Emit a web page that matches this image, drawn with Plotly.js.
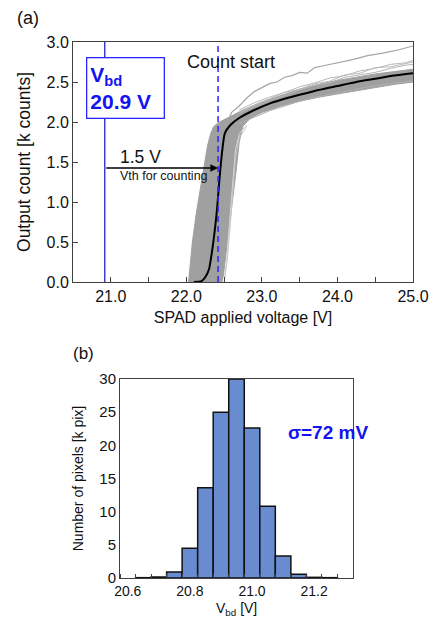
<!DOCTYPE html>
<html>
<head>
<meta charset="utf-8">
<script src="https://cdn.plot.ly/plotly-3.0.1.min.js"></script>
<style>html,body{margin:0;padding:0;background:#fff}#chart{width:433px;height:617px}</style>
</head>
<body>
<div id="chart"></div>
<script>
// ---------- Panel (a): output count vs SPAD applied voltage ----------
// dense gray band of pixel curves (outline: upper-left edge then lower-right edge)
const bandX = [22.03,22.08,22.13,22.18,22.23,22.28,22.32,22.36,22.42,22.5,22.6,22.75,23.0,23.25,23.5,23.75,24.0,24.25,24.5,24.75,25.0,
               25.0,24.75,24.5,24.25,24.0,23.75,23.5,23.25,23.0,22.85,22.75,22.7,22.66,22.62,22.58,22.53,22.49,22.47];
const bandY = [0,0.5,0.85,1.15,1.45,1.7,1.85,1.94,1.99,2.03,2.08,2.15,2.25,2.33,2.41,2.47,2.52,2.56,2.6,2.63,2.66,
               2.5,2.47,2.43,2.39,2.35,2.31,2.26,2.2,2.12,2.05,1.95,1.75,1.4,1.1,0.78,0.35,0.08,0];

// individual gray pixel curves above the band
const upX = [22.7,22.9,23.1,23.3,23.5,23.7,23.9,24.1,24.3,24.5,24.7,24.9,25.0];
const upA = [2.15,2.24,2.31,2.37,2.44,2.49,2.55,2.58,2.64,2.67,2.72,2.74,2.77];
const upB = [2.13,2.21,2.29,2.37,2.41,2.48,2.51,2.59,2.61,2.68,2.69,2.73,2.75];
const upC = [2.11,2.19,2.27,2.33,2.40,2.46,2.49,2.56,2.59,2.62,2.67,2.71,2.72];
const edgeLo = [1.98,2.06,2.14,2.2,2.26,2.31,2.34,2.38,2.42,2.45,2.48,2.50,2.52];

// top outlier pixel curve
const outX = [22.5,22.55,22.6,22.7,22.8,22.9,23.0,23.1,23.2,23.3,23.4,23.5,23.6,23.7,23.8,23.9,24.0,24.2,24.4,24.6,24.8,25.0];
const outY = [1.95,2.02,2.12,2.2,2.3,2.38,2.43,2.48,2.50,2.56,2.58,2.62,2.61,2.68,2.70,2.72,2.74,2.78,2.83,2.86,2.90,2.95];

// light late-rising pixel curves
const lateX = [22.5,22.54,22.58,22.62,22.65,22.7,22.8];
const lateY1 = [0,0.35,0.85,1.35,1.65,1.85,1.97];
const lateY2 = [0,0.25,0.7,1.2,1.55,1.8,1.95];

// mean curve (black)
const meanX = [22.1,22.2,22.25,22.3,22.35,22.4,22.44,22.47,22.51,22.58,22.7,22.9,23.1,23.3,23.5,23.75,24.0,24.25,24.5,24.75,25.0];
const meanY = [0,0.01,0.06,0.16,0.45,0.85,1.3,1.6,1.86,1.96,2.05,2.15,2.23,2.29,2.34,2.4,2.45,2.5,2.54,2.58,2.61];

const vbd = 20.92;        // breakdown voltage marker
const countStart = 22.42; // count start marker
const arrowY = 1.425;

const xTicksA = [21,22,23,24,25];
const yTicksA = [0,0.5,1,1.5,2,2.5,3];

// ---------- Panel (b): histogram of Vbd ----------
const binCenters = [20.65,20.70,20.75,20.80,20.85,20.90,20.95,21.00,21.05,21.10,21.15,21.20,21.25];
const binCounts  = [0.05,0.15,0.9,4.5,13.6,25.0,30.0,22.6,10.8,3.3,0.55,0.1,0.05];
const xTicksB = [20.6,20.8,21.0,21.2];
const xTickTextB = ['20.6','20.8','21.0','21.2'];
const yTicksB = [0,5,10,15,20,25,30];

const FONT = 'Liberation Sans, Arial, sans-serif';
const AX = '#404040';
const GRAY = 'rgb(160,160,160)';

const traces = [
  {x: bandX, y: bandY, type:'scatter', mode:'lines', fill:'toself', fillcolor:GRAY,
   line:{color:GRAY, width:1}, xaxis:'x', yaxis:'y', hoverinfo:'skip'},
  {x: upX, y: edgeLo, mode:'lines', line:{color:'rgb(175,175,175)', width:1}, xaxis:'x', yaxis:'y'},
  {x: upX, y: upA, mode:'lines', line:{color:'rgb(185,185,185)', width:1}, xaxis:'x', yaxis:'y'},
  {x: upX, y: upB, mode:'lines', line:{color:'rgb(185,185,185)', width:1}, xaxis:'x', yaxis:'y'},
  {x: upX, y: upC, mode:'lines', line:{color:'rgb(180,180,180)', width:1}, xaxis:'x', yaxis:'y'},
  {x: outX, y: outY, mode:'lines', line:{color:'rgb(165,165,165)', width:1.2}, xaxis:'x', yaxis:'y'},
  {x: lateX, y: lateY1, mode:'lines', line:{color:'rgb(215,215,215)', width:1}, xaxis:'x', yaxis:'y'},
  {x: lateX, y: lateY2, mode:'lines', line:{color:'rgb(200,200,200)', width:1}, xaxis:'x', yaxis:'y'},
  {x: meanX, y: meanY, mode:'lines', line:{color:'#000', width:2, shape:'spline', smoothing:0.6}, xaxis:'x', yaxis:'y'},
  {x: binCenters, y: binCounts, type:'bar', width:0.05, xaxis:'x2', yaxis:'y2',
   marker:{color:'rgb(105,140,208)', line:{color:'#111', width:1.5}}}
];

const layout = {
  width:433, height:617,
  margin:{l:0, r:0, t:0, b:0},
  paper_bgcolor:'#fff', plot_bgcolor:'#fff',
  showlegend:false,
  font:{family:FONT, color:'#111', size:16},
  xaxis:{domain:[73/433, 413/433], anchor:'y', range:[20.5,25], tickmode:'array', tickvals:xTicksA,
    tickformat:'.1f', ticks:'inside', ticklen:5, tickcolor:AX,
    minor:{tick0:20.5, dtick:0.5, ticks:'inside', ticklen:5, tickcolor:AX},
    showline:true, mirror:true, linecolor:AX, linewidth:1, showgrid:false, zeroline:false,
    tickfont:{size:16}, title:{text:'SPAD applied voltage [V]', font:{size:16}, standoff:7}},
  yaxis:{domain:[1-282/617, 1-42/617], anchor:'x', range:[0,3], tickmode:'array', tickvals:yTicksA,
    tickformat:'.1f', ticks:'inside', ticklen:5, tickcolor:AX,
    showline:true, mirror:true, linecolor:AX, linewidth:1, showgrid:false, zeroline:false,
    tickfont:{size:16}, title:{text:'Output count [k counts]', font:{size:17.5}, standoff:11}},
  xaxis2:{domain:[120/433, 353/433], anchor:'y2', range:[20.575,21.325], tickmode:'array',
    tickvals:xTicksB, ticktext:xTickTextB, ticks:'',
    minor:{tick0:20.575, dtick:0.05, ticks:'inside', ticklen:4, tickcolor:AX},
    showline:true, mirror:true, linecolor:AX, linewidth:1, showgrid:false, zeroline:false,
    tickfont:{size:14}},
  yaxis2:{domain:[1-578/617, 1-379/617], anchor:'x2', range:[0,30], tickmode:'array', tickvals:yTicksB,
    ticks:'', showline:true, mirror:true, linecolor:AX, linewidth:1, showgrid:false, zeroline:false,
    tickfont:{size:15}, title:{text:'Number of pixels [k pix]', font:{size:14}, standoff:12}},
  shapes:[
    {type:'line', xref:'x', yref:'y domain', x0:vbd, x1:vbd, y0:0, y1:1, line:{color:'rgb(60,60,210)', width:1.5}},
    {type:'line', xref:'x', yref:'y domain', x0:countStart, x1:countStart, y0:0, y1:1, line:{color:'rgb(40,40,255)', width:1.5, dash:'6px,4px'}}
  ],
  annotations:[
    {xref:'paper', yref:'paper', x:15/433, y:1-18/617, xanchor:'left', yanchor:'middle', text:'(a)', showarrow:false, font:{size:18}},
    {xref:'paper', yref:'paper', x:71/433, y:1-353/617, xanchor:'left', yanchor:'middle', text:'(b)', showarrow:false, font:{size:17}},
    {xref:'x', yref:'y', x:20.67, y:2.81, xanchor:'left', yanchor:'top', align:'left', valign:'middle',
     width:70, height:53, borderpad:3, bgcolor:'#fff', bordercolor:'rgb(40,40,255)', borderwidth:1.3,
     text:'<b>V<sub>bd</sub><br>20.9 V</b>', showarrow:false, font:{size:21, color:'rgb(20,20,240)'}},
    {xref:'x', yref:'y', x:22.59, y:2.75, xanchor:'center', yanchor:'middle', text:'Count start', showarrow:false, font:{size:18}},
    {xref:'x', yref:'y', x:21.095, y:1.5625, xanchor:'left', yanchor:'middle', text:'1.5 V', showarrow:false, font:{size:17.5}},
    {xref:'x', yref:'y', x:21.095, y:1.325, xanchor:'left', yanchor:'middle', text:'Vth for counting', showarrow:false, font:{size:12.5}},
    {xref:'x', yref:'y', axref:'x', ayref:'y', x:countStart, y:arrowY, ax:vbd, ay:arrowY, text:'',
     showarrow:true, arrowhead:2, arrowsize:1.1, arrowwidth:1.4, arrowcolor:'#000'},
    {xref:'paper', yref:'paper', x:328/433, y:1-433/617, xanchor:'center', yanchor:'middle',
     text:'<b>σ=72 mV</b>', showarrow:false, font:{size:19, color:'rgb(20,20,240)'}},
    {xref:'paper', yref:'paper', x:(120+353)/2/433, y:0, xanchor:'center', yanchor:'bottom', yshift:-2, borderpad:0,
     text:'V<sub>bd</sub> [V]', showarrow:false, font:{size:14}}
  ]
};

Plotly.newPlot('chart', traces, layout, {displayModeBar:false, staticPlot:true});
</script>
</body>
</html>
